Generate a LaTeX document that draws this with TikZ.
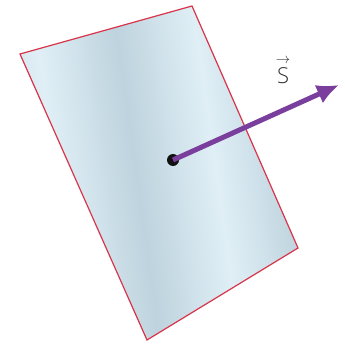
\documentclass[tikz,border=0pt]{standalone}
\usepackage{amsmath}
\usepackage{fontspec}
\setmainfont{Open Sans Light}
\usetikzlibrary{arrows.meta,positioning}
\definecolor{PlateEdge}{HTML}{D8344A}
\definecolor{PlateBlue}{HTML}{BED3DE}
\definecolor{PlateMid}{HTML}{CADDE7}
\definecolor{PlateLight}{HTML}{E0EFF6}
\definecolor{FluxPurple}{HTML}{7A3E9C}
\definecolor{DotInk}{HTML}{111111}
\pgfdeclarehorizontalshading{platesheen}{100bp}{color(0bp)=(PlateBlue); color(22bp)=(PlateMid);
  color(32bp)=(PlateLight); color(46bp)=(PlateBlue); color(60bp)=(PlateLight);
  color(73bp)=(PlateBlue); color(85bp)=(PlateLight); color(100bp)=(PlateMid)}
\tikzset{
  plate/.style={draw=PlateEdge, line width=1.2pt, line join=miter, shading=platesheen, shading angle=8},
  centerdot/.style={circle, fill=DotInk, inner sep=0pt, minimum size=12pt},
  fluxarrow/.style={-{Latex[length=22pt,width=20pt]}, line width=5pt, draw=FluxPurple},
  veclabel/.style={font=\fontsize{22}{24}\selectfont, text=black!80}
}
\begin{document}
\begin{tikzpicture}[x=1pt, y=-1pt]
\useasboundingbox (0,0) rectangle (345,345);
\shade[plate] (20,54) -- (192,6) -- (298,248) -- (147,340) -- cycle;
\node[centerdot] (o) at (173,160) {};
\coordinate (tip) at (339,85);
\draw[fluxarrow] (o.center) -- (tip);
\node[veclabel, inner sep=0pt] (s) at (283,70) {$\overset{\scriptstyle\rightarrow}{\text{S}}$};
\end{tikzpicture}
\end{document}
